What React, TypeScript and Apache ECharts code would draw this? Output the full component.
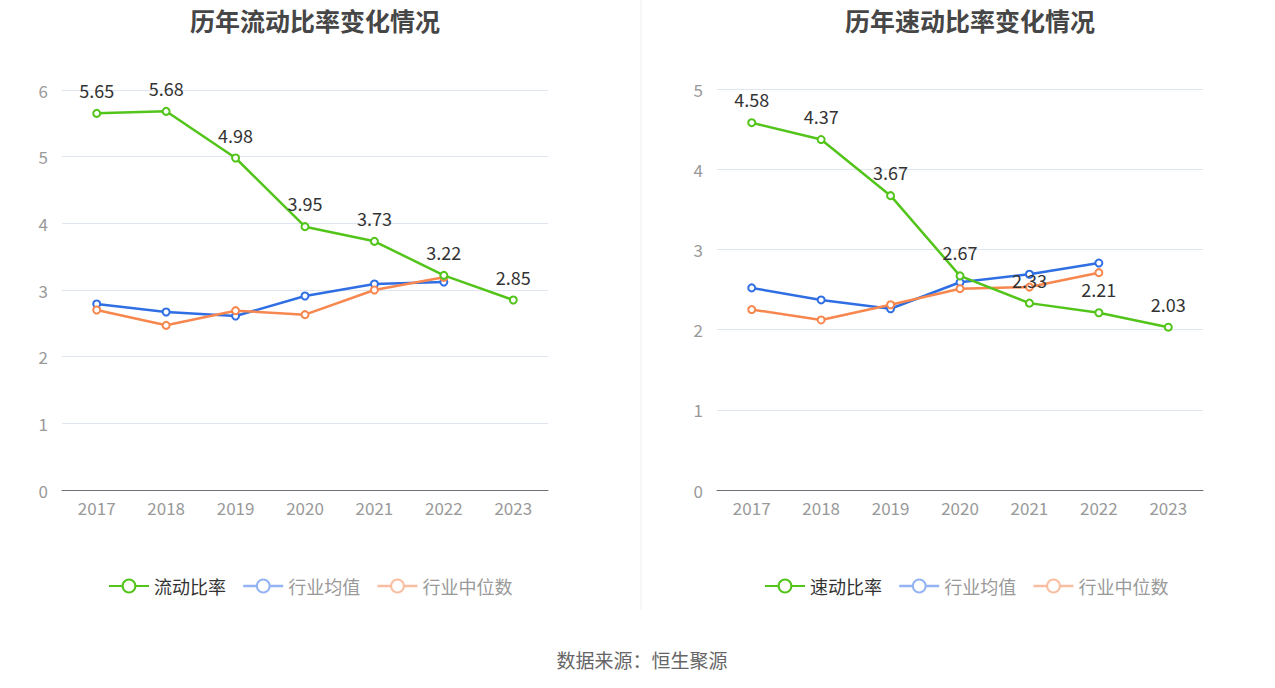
import React, { useEffect, useRef } from "react";
import * as echarts from "echarts";

const years = ["2017", "2018", "2019", "2020", "2021", "2022", "2023"];
const currentRatio = [5.65, 5.68, 4.98, 3.95, 3.73, 3.22, 2.85];
const currentAvg = [2.79, 2.67, 2.61, 2.91, 3.09, 3.12];
const currentMedian = [2.7, 2.47, 2.69, 2.63, 3.0, 3.19];
const quickRatio = [4.58, 4.37, 3.67, 2.67, 2.33, 2.21, 2.03];
const quickAvg = [2.52, 2.37, 2.26, 2.59, 2.69, 2.83];
const quickMedian = [2.25, 2.12, 2.31, 2.51, 2.53, 2.71];

const GREEN = "#52c41a";
const BLUE = "#2f6fe3";
const ORANGE = "#f7874f";

export default function App() {
  const ref = useRef<HTMLDivElement>(null);
  useEffect(() => {
    document.body.style.margin = "0";
    const chart = echarts.init(ref.current!, null, { renderer: "svg" });
    const font = "'Microsoft YaHei', 'Noto Sans CJK SC', sans-serif";
    const mkX = (i: number) => ({
      type: "category" as const,
      gridIndex: i,
      data: years,
      boundaryGap: true,
      axisLine: { lineStyle: { color: "#6e7079" } },
      axisTick: { alignWithLabel: true, lineStyle: { color: "#6e7079" } },
      axisLabel: { color: "#999", fontSize: 17, margin: 9, fontFamily: font },
    });
    const mkY = (i: number, max: number) => ({
      type: "value" as const,
      gridIndex: i,
      min: 0,
      max,
      interval: 1,
      axisLabel: { color: "#999", fontSize: 17, margin: 14, fontFamily: font },
      splitLine: { lineStyle: { color: "#e0e6f1" } },
    });
    const mkLegend = (name: string, left: number) => ({
      top: 572,
      left,
      itemWidth: 40,
      itemHeight: 16,
      itemGap: 16,
      textStyle: { fontSize: 18, fontFamily: font, color: "#999" },
      data: [
        { name, textStyle: { color: "#333" } },
        { name: "行业均值", itemStyle: { color: "#94b3f2", borderColor: "#94b3f2", borderWidth: 2 }, lineStyle: { color: "#94b3f2", width: 2.5 } },
        { name: "行业中位数", itemStyle: { color: "#f9bea2", borderColor: "#f9bea2", borderWidth: 2 }, lineStyle: { color: "#f9bea2", width: 2.5 } },
      ],
    });
    const mainSeries = (name: string, data: number[], i: number) => ({
      name,
      type: "line" as const,
      xAxisIndex: i,
      yAxisIndex: i,
      data,
      symbol: "emptyCircle",
      symbolSize: 7,
      color: GREEN,
      lineStyle: { width: 2.5, color: GREEN },
      itemStyle: { color: GREEN, borderWidth: 2 },
      label: { show: true, position: "top", distance: 10, color: "#333", fontSize: 18, fontFamily: font },
      z: 3,
    });
    const sideSeries = (name: string, data: number[], i: number, color: string) => ({
      name,
      type: "line" as const,
      xAxisIndex: i,
      yAxisIndex: i,
      data,
      symbol: "emptyCircle",
      symbolSize: 7,
      color,
      lineStyle: { width: 2.5, color },
      itemStyle: { color, borderWidth: 2 },
      z: 2,
    });
    chart.setOption({
      animation: false,
      backgroundColor: "#fff",
      title: [
        { text: "历年流动比率变化情况", left: 310, textAlign: "center", top: 2, textStyle: { fontSize: 25, fontWeight: "bold", color: "#464646", fontFamily: font } },
        { text: "历年速动比率变化情况", left: 965, textAlign: "center", top: 2, textStyle: { fontSize: 25, fontWeight: "bold", color: "#464646", fontFamily: font } },
        { text: "数据来源：恒生聚源", left: 637, textAlign: "center", top: 645, textStyle: { fontSize: 19, fontWeight: "normal", color: "#666", fontFamily: font } },
      ],
      legend: [mkLegend("流动比率", 103), mkLegend("速动比率", 759)],
      grid: [
        { left: 62, right: 727, top: 90, bottom: 198 },
        { left: 717, right: 72, top: 89, bottom: 198 },
      ],
      xAxis: [mkX(0), mkX(1)],
      yAxis: [mkY(0, 6), mkY(1, 5)],
      graphic: [
        { type: "line", shape: { x1: 641, y1: 0, x2: 641, y2: 610 }, style: { stroke: "#eeeeee", lineWidth: 1 } },
      ],
      series: [
        mainSeries("流动比率", currentRatio, 0),
        sideSeries("行业均值", currentAvg, 0, BLUE),
        sideSeries("行业中位数", currentMedian, 0, ORANGE),
        mainSeries("速动比率", quickRatio, 1),
        sideSeries("行业均值", quickAvg, 1, BLUE),
        sideSeries("行业中位数", quickMedian, 1, ORANGE),
      ],
    });
    return () => chart.dispose();
  }, []);
  return <div ref={ref} style={{ width: 1275, height: 688 }} />;
}
